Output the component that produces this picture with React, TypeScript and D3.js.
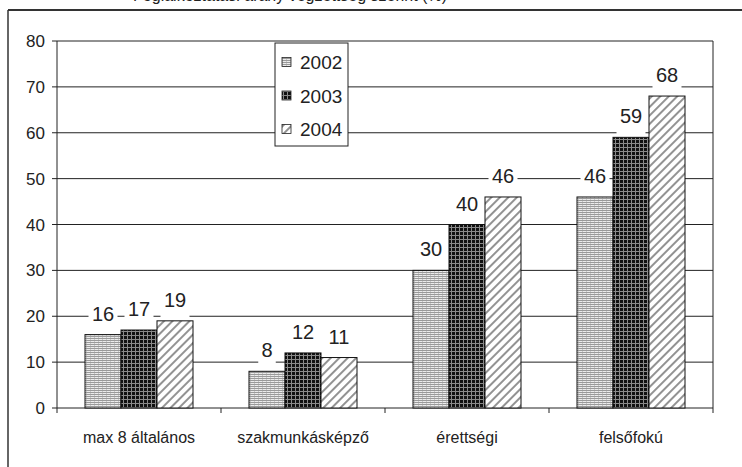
import React from "react";
import * as d3 from "d3";

const categories = ["max 8 általános", "szakmunkásképző", "érettségi", "felsőfokú"];
const seriesNames = ["2002", "2003", "2004"];
const values2002 = [16, 8, 30, 46];
const values2003 = [17, 12, 40, 59];
const values2004 = [19, 11, 46, 68];
const yTicks = [0, 10, 20, 30, 40, 50, 60, 70, 80];
const titleText = "Foglalkoztatási arány végzettség szerint (%)";

const W = 742;
const H = 467;
const plot = { left: 57, right: 713, top: 41, bottom: 408 };
const patterns = ["p2002", "p2003", "p2004"];

export default function App() {
  const series = [values2002, values2003, values2004];
  const x = d3.scaleBand<string>().domain(categories).range([plot.left, plot.right]).padding(0);
  const y = d3.scaleLinear().domain([0, 80]).range([plot.bottom, plot.top]);
  const barW = 36;
  const groupW = barW * series.length;
  const font = "Arial, 'Liberation Sans', sans-serif";

  const labels: { cx: number; top: number; text: string }[] = [];
  categories.forEach((c, ci) => {
    const x0 = (x(c) as number) + x.bandwidth() / 2 - groupW / 2;
    series.forEach((s, si) => {
      labels.push({ cx: x0 + si * barW + barW / 2, top: y(s[ci]), text: String(s[ci]) });
    });
  });

  return (
    <svg width={W} height={H} style={{ position: "absolute", left: 0, top: 0, background: "#fff" }}>
      <defs>
        <pattern id="p2002" width="4" height="2" patternUnits="userSpaceOnUse">
          <rect width="4" height="2" fill="#ececec" />
          <rect width="4" height="1" fill="#9a9a9a" />
          <rect x="2" y="1" width="1" height="1" fill="#c8c8c8" />
        </pattern>
        <pattern id="p2003" width="4" height="4" patternUnits="userSpaceOnUse">
          <rect width="4" height="4" fill="#111" />
          <rect y="3" width="4" height="1" fill="#8a8a8a" />
          <rect x="3" width="1" height="4" fill="#8a8a8a" />
        </pattern>
        <pattern id="p2004" width="6" height="6" patternUnits="userSpaceOnUse" patternTransform="rotate(45)">
          <rect width="6" height="6" fill="#fff" />
          <line x1="1" y1="0" x2="1" y2="6" stroke="#777" strokeWidth="1.6" />
        </pattern>
      </defs>

      <text x={447} y={1} textAnchor="end" fontFamily={font} fontSize={16} fill="#222">
        {titleText}
      </text>

      {/* chart area frame */}
      <line x1={8} y1={10} x2={W} y2={10} stroke="#333" strokeWidth={2} />
      <line x1={8} y1={10} x2={8} y2={H} stroke="#333" strokeWidth={1.5} />

      {/* gridlines */}
      {yTicks.map((t) => (
        <line key={"g" + t} x1={plot.left - 5} x2={plot.right} y1={y(t)} y2={y(t)} stroke="#222" strokeWidth={1} />
      ))}
      {yTicks.map((t) => (
        <text key={"t" + t} x={45} y={y(t) + 6} textAnchor="end" fontFamily={font} fontSize={17} fill="#222">
          {t}
        </text>
      ))}
      <line x1={plot.left} x2={plot.left} y1={plot.top} y2={plot.bottom} stroke="#222" />
      <line x1={plot.right} x2={plot.right} y1={plot.top} y2={plot.bottom + 5} stroke="#222" />
      {categories.map((c) => (
        <line key={"xt" + c} x1={x(c) as number} x2={x(c) as number} y1={plot.bottom} y2={plot.bottom + 5} stroke="#222" />
      ))}

      {/* bars */}
      {categories.map((c, ci) => {
        const x0 = (x(c) as number) + x.bandwidth() / 2 - groupW / 2;
        return series.map((s, si) => (
          <rect
            key={c + si}
            x={x0 + si * barW}
            y={y(s[ci])}
            width={barW}
            height={plot.bottom - y(s[ci])}
            fill={`url(#${patterns[si]})`}
            stroke="#111"
            strokeWidth={1}
          />
        ));
      })}

      {/* value labels */}
      {labels.map((l, i) => {
        const base = l.top - 14;
        const w = l.text.length * 11.5 + 6;
        return (
          <g key={"l" + i}>
            <rect x={l.cx - w / 2} y={base - 17} width={w} height={28} fill="#fff" />
            <text x={l.cx} y={base} textAnchor="middle" fontFamily={font} fontSize={20} fill="#222">
              {l.text}
            </text>
          </g>
        );
      })}

      {/* category labels */}
      {categories.map((c) => (
        <text
          key={"c" + c}
          x={(x(c) as number) + x.bandwidth() / 2}
          y={443}
          textAnchor="middle"
          fontFamily={font}
          fontSize={16}
          fill="#222"
        >
          {c}
        </text>
      ))}

      {/* legend */}
      <rect x={275} y={43} width={73} height={103} fill="#fff" stroke="#222" strokeWidth={1} />
      {seriesNames.map((n, i) => {
        const cy = 62 + i * 33.5;
        return (
          <g key={"lg" + n}>
            <rect x={282} y={cy - 4.5} width={9} height={9} fill={`url(#${patterns[i]})`} stroke="#222" strokeWidth={0.8} />
            <text x={300} y={cy + 7} fontFamily={font} fontSize={19} fill="#222">
              {n}
            </text>
          </g>
        );
      })}
    </svg>
  );
}
